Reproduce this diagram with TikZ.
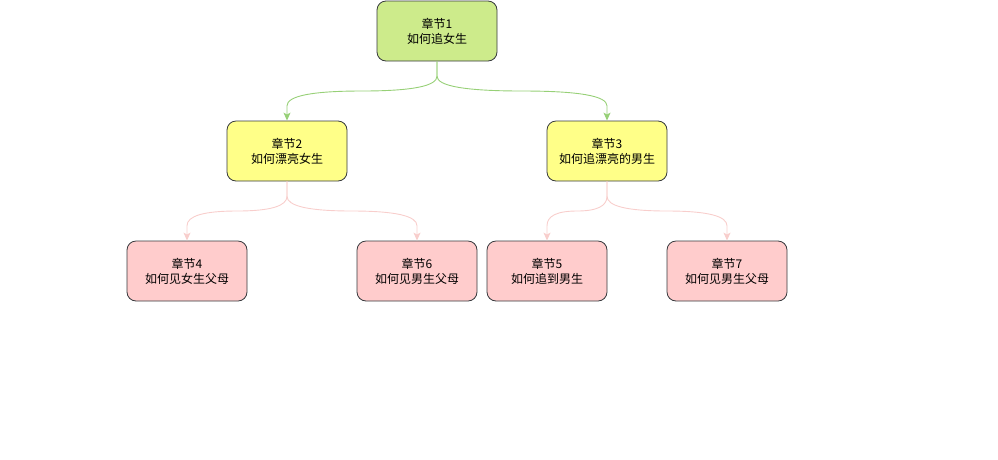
\documentclass[tikz,border=0pt]{standalone}
\usepackage{fontspec}
\setmainfont{Noto Sans CJK SC}
\usetikzlibrary{arrows.meta,calc}
\definecolor{gfill}{HTML}{CDEB8B}
\definecolor{yfill}{HTML}{FFFF88}
\definecolor{pfill}{HTML}{FFCCCC}
\definecolor{nstroke}{HTML}{36393D}
\definecolor{gline}{HTML}{97D077}
\definecolor{pline}{HTML}{F8CECC}
\tikzset{
  box/.style={draw=nstroke, line width=0.8pt, rounded corners=9pt, minimum width=120pt, minimum height=60pt, inner sep=0pt, align=center, font=\fontsize{12}{15}\selectfont, text=black},
  gbox/.style={box, fill=gfill},
  ybox/.style={box, fill=yfill},
  pbox/.style={box, fill=pfill},
  conn/.style={line width=0.9pt, -{Stealth[length=8pt,width=7pt,inset=2pt]}},
}
\newcommand{\curvedge}[3]{%
  \coordinate (ps) at (#1.south);
  \coordinate (cn) at (#2.north);
  \coordinate (mm) at ($(ps)!0.5!(cn)$);
  \coordinate (b1) at (ps |- mm);
  \coordinate (b2) at (cn |- mm);
  \coordinate (a1) at ($(ps)!0.5!(b1)$);
  \coordinate (a2) at ($(cn)!0.5!(b2)$);
  \draw[conn, draw=#3] (#1.south) -- (a1)
    .. controls ($(a1)!0.6667!(b1)$) and ($(mm)!0.6667!(b1)$) .. (mm)
    .. controls ($(mm)!0.6667!(b2)$) and ($(a2)!0.6667!(b2)$) .. (a2)
    -- (#2.north);
}
\begin{document}
\begin{tikzpicture}[x=1pt,y=-1pt]
\useasboundingbox (0,0) rectangle (998,459);
\node[gbox] (n1) at (437,31) {章节1\\如何追女生};
\node[ybox] (n2) at (287,151) {章节2\\如何漂亮女生};
\node[ybox] (n3) at (607,151) {章节3\\如何追漂亮的男生};
\node[pbox] (n4) at (187,271) {章节4\\如何见女生父母};
\node[pbox] (n6) at (417,271) {章节6\\如何见男生父母};
\node[pbox] (n5) at (547,271) {章节5\\如何追到男生};
\node[pbox] (n7) at (727,271) {章节7\\如何见男生父母};
\curvedge{n1}{n2}{gline}
\curvedge{n1}{n3}{gline}
\curvedge{n2}{n4}{pline}
\curvedge{n2}{n6}{pline}
\curvedge{n3}{n5}{pline}
\curvedge{n3}{n7}{pline}
\end{tikzpicture}
\end{document}
